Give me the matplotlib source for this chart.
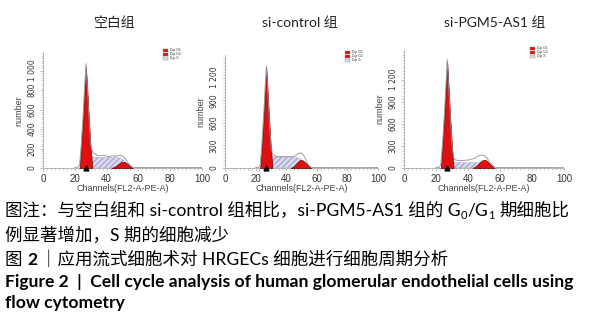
import numpy as np
import matplotlib.pyplot as plt
from matplotlib.patches import Rectangle

plt.rcParams['font.family'] = ['Liberation Sans', 'DejaVu Sans']

titles = ['空白组', 'si-control 组', 'si-PGM5-AS1 组']

# G0/G1 peak (red)
g1_x = [23, 24, 25, 26, 27, 28, 29, 30, 31]
g1_y = [[0, 200, 450, 750, 1040, 760, 460, 200, 0],
        [0, 260, 580, 950, 1330, 970, 590, 260, 0],
        [0, 280, 620, 1010, 1440, 1040, 640, 280, 0]]

# S phase (lavender, hatched)
s_x = [28, 30, 33, 36, 40, 44, 47, 50, 52, 54]
s_y = [[0, 115, 112, 110, 108, 110, 108, 90, 45, 0],
       [0, 150, 148, 145, 142, 140, 138, 110, 50, 0],
       [0, 80, 76, 74, 72, 72, 70, 60, 30, 0]]

# G2/M peak (red)
g2_x = [43, 45, 47, 49, 51, 53, 55, 56.5]
g2_y = [[0, 12, 35, 58, 65, 45, 15, 0],
        [0, 25, 70, 105, 100, 60, 20, 0],
        [0, 25, 70, 105, 108, 70, 25, 0]]

# measured histogram outline (gray)
d_x = [20, 22, 23, 24, 25, 26, 27, 28, 29, 30, 31, 32, 35, 38, 41, 44, 46, 48, 50, 52, 54, 56, 58, 65, 75, 85, 100]
d_y = [[5, 8, 30, 230, 480, 780, 1070, 790, 480, 230, 170, 150, 125, 130, 118, 125, 120, 130, 125, 90, 40, 10, 5, 6, 4, 5, 4],
       [5, 8, 40, 290, 610, 980, 1360, 1000, 610, 280, 190, 165, 150, 155, 150, 152, 160, 195, 200, 150, 60, 12, 5, 5, 6, 4, 5],
       [5, 8, 45, 310, 650, 1040, 1470, 1070, 660, 300, 140, 110, 100, 105, 110, 130, 160, 175, 170, 130, 70, 20, 6, 5, 5, 6, 4]]

yticks = [[0, 200, 400, 600, 800, 1000],
          [0, 300, 600, 900, 1200],
          [0, 300, 600, 900, 1200]]
ytick_labels = [['0', '200', '400', '600', '800', '1 000'],
                ['0', '300', '600', '900', '1 200'],
                ['0', '300', '600', '900', '1 200']]
ymax = [1180, 1500, 1600]

axes_pos = [[43, 202, 53], [225, 378, 55], [404, 564, 50]]
legend_pos = [[163, 48], [345, 50], [530, 46]]

W, H = 601, 321
fig = plt.figure(figsize=(W / 100, H / 100), dpi=100)

title_x = [115, 300, 495]
for i in range(3):
    l, r, t = axes_pos[i]
    ax = fig.add_axes([l / W, 1 - 168 / H, (r - l) / W, (168 - t) / H])
    ax.fill_between(s_x, s_y[i], color='#dcdcf0', edgecolor='#a8a8d0', hatch='//////', linewidth=0.3, zorder=2)
    ax.fill_between(g1_x, g1_y[i], color='#e01010', edgecolor='#700000', linewidth=0.5, zorder=3)
    ax.fill_between(g2_x, g2_y[i], color='#e01010', edgecolor='#700000', linewidth=0.5, zorder=3)
    ax.plot(d_x, d_y[i], color='#909090', linewidth=0.6, zorder=4)
    ax.plot(27, 0, marker='^', color='black', markersize=3.5, clip_on=False, zorder=5)
    ax.set_xlim(0, 100)
    ax.set_ylim(0, ymax[i])
    ax.set_xticks([0, 20, 40, 60, 80, 100])
    ax.set_xticks(np.arange(0, 101, 2.5), minor=True)
    ax.set_yticks(yticks[i])
    ax.set_yticks(np.arange(0, ymax[i], yticks[i][1] / 8), minor=True)
    ax.set_yticklabels(ytick_labels[i], rotation=90, va='center', family='Liberation Sans Narrow', fontsize=5.5)
    for s in ['top', 'right']:
        ax.spines[s].set_visible(False)
    for s in ['left', 'bottom']:
        ax.spines[s].set_color('#aaaaaa')
        ax.spines[s].set_linewidth(0.6)
    ax.tick_params(axis='x', labelsize=7)
    ax.tick_params(colors='#aaaaaa', labelcolor='#333333', length=2.5, width=0.5, pad=2)
    ax.tick_params(which='minor', length=1.5, width=0.4, colors='#aaaaaa')
    ax.set_xlabel('Channels(FL2-A-PE-A)', fontsize=6.5, color='#444444', labelpad=0)
    ax.set_ylabel('number', fontsize=6.5, color='#444444', labelpad=3)
    # tiny legend
    lx, ly = legend_pos[i]
    cols = ['#e01010', '#e01010', '#dcdcf0']
    for k in range(3):
        fig.patches.append(Rectangle((lx / W, 1 - (ly + 4 * k + 4) / H), 5 / W, 3.5 / H,
                                     transform=fig.transFigure, facecolor=cols[k], edgecolor='#888888', linewidth=0.3))
        fig.text((lx + 7) / W, 1 - (ly + 4 * k + 2) / H, ['Dip G1', 'Dip G2', 'Dip S'][k],
                 fontsize=2.5, va='center', color='#333333')
    fig.text(title_x[i] / W, 1 - 23 / H, titles[i], fontsize=10, ha='center', va='center',
             family=['Lato', 'Noto Sans CJK SC'], color='#222222')

cap = ['Lato', 'Noto Sans CJK SC']
renderer = fig.canvas.get_renderer()


def text_run(x, y, pieces):
    # pieces: (string, fontsize, weight, vertical offset px, gap before px)
    for s, size, weight, dy, gap in pieces:
        x += gap
        t = fig.text(x / W, 1 - (y - dy) / H, s, fontsize=size, weight=weight,
                     va='baseline', family=cap)
        x += t.get_window_extent(renderer).width


fs = 12.6
text_run(5, 216, [('图注：与空白组和 si-control 组相比，si-PGM5-AS1 组的 G', fs, 'normal', 0, 0),
                  ('0', 8, 'normal', -3, 0), ('/G', fs, 'normal', 0, 0), ('1', 8, 'normal', -3, 0),
                  ('期细胞比', fs, 'normal', 0, 5)])
text_run(5, 241, [('例显著增加，S 期的细胞减少', fs, 'normal', 0, 0)])
text_run(5, 265, [('图', fs, 'normal', 0, 0), ('2', fs, 'bold', 0, 5),
                  ('｜应用流式细胞术对 HRGECs 细胞进行细胞周期分析', fs, 'normal', 0, 3)])
fig.text(5 / W, 1 - 282 / H, 'Figure 2  |  Cell cycle analysis of human glomerular endothelial cells using',
         fontsize=12.6, va='center', family='Lato', weight='bold')
fig.text(5 / W, 1 - 303 / H, 'flow cytometry', fontsize=12.6, va='center', family='Lato', weight='bold')

fig.savefig('out.png', dpi=100)
